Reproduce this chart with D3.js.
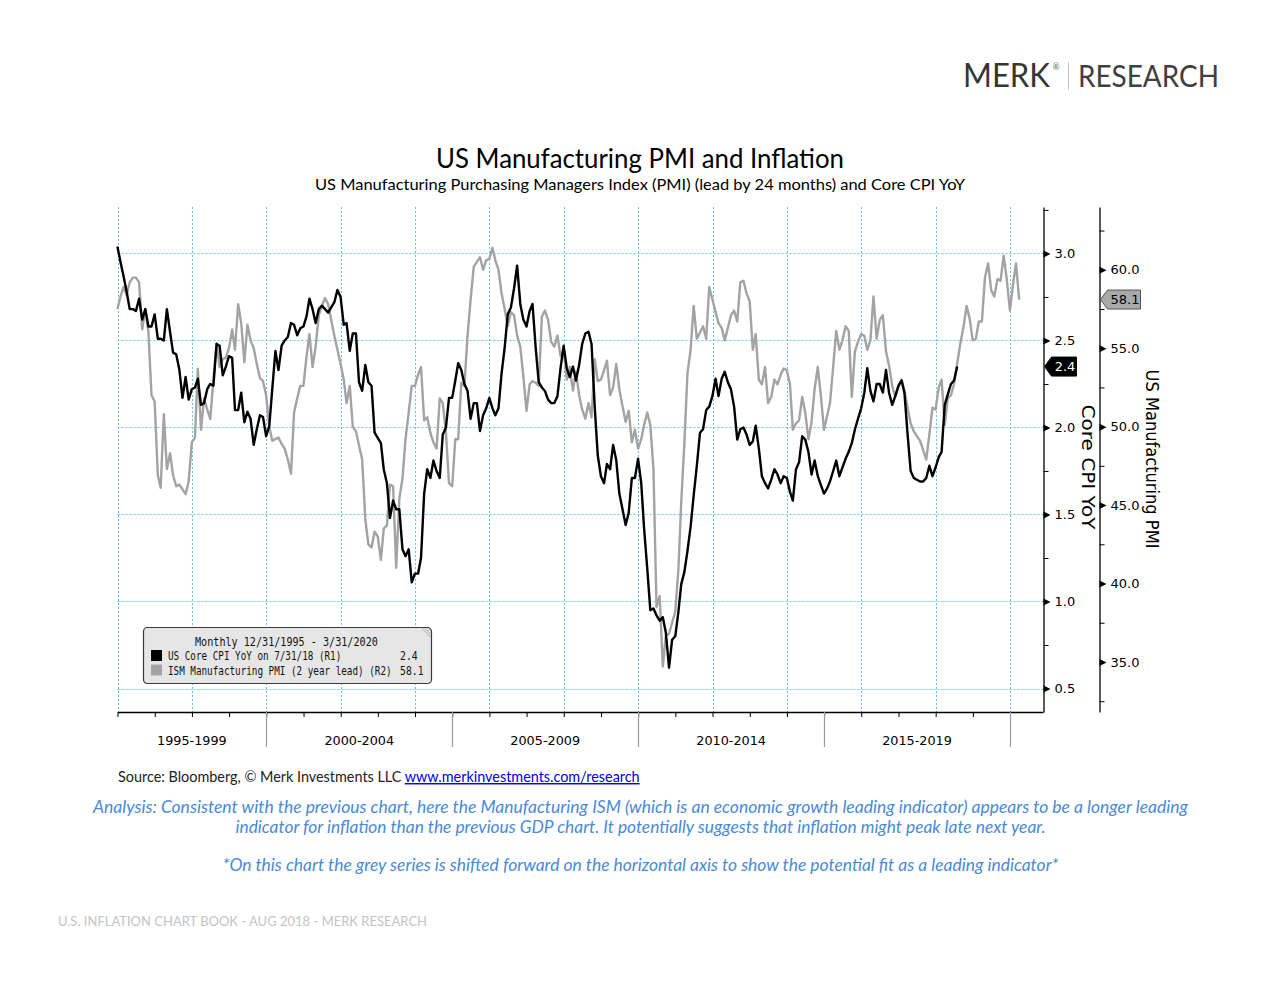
<!DOCTYPE html>
<html><head><meta charset="utf-8">
<script src="https://cdn.jsdelivr.net/npm/d3@7"></script>
<style>html,body{margin:0;padding:0;background:#fff;} svg{display:block}</style>
</head><body>
<svg id="c" width="1280" height="989"></svg>
<script>
// ---- DATA ----
// Monthly series start at month-end Dec 1995 (index 0)
const startYear = 1995, startMonth = 12;
// US Core CPI YoY (R1), Dec 1995 .. Jul 2018
const cpiValues = [
 3.04,2.95,2.87,2.78,2.68,2.68,2.67,2.74,2.62,2.68,
 2.58,2.58,2.65,2.51,2.51,2.50,2.68,2.55,2.43,2.42,
 2.33,2.17,2.29,2.16,2.22,2.23,2.28,2.13,2.14,2.22,
 2.25,2.24,2.48,2.47,2.30,2.35,2.41,2.40,2.10,2.10,
 2.20,2.03,2.09,2.05,1.90,1.99,2.07,2.06,1.95,2.01,
 2.22,2.44,2.33,2.47,2.50,2.52,2.60,2.59,2.53,2.57,
 2.58,2.64,2.74,2.68,2.60,2.68,2.70,2.68,2.66,2.69,
 2.72,2.79,2.75,2.59,2.60,2.44,2.54,2.54,2.26,2.21,
 2.36,2.26,2.24,1.97,1.94,1.91,1.76,1.68,1.48,1.58,
 1.53,1.53,1.30,1.26,1.30,1.11,1.16,1.16,1.25,1.62,
 1.76,1.71,1.81,1.75,1.71,1.96,2.00,2.17,2.17,2.27,
 2.37,2.33,2.25,2.21,2.05,2.14,2.14,1.98,2.07,2.11,
 2.17,2.11,2.07,2.11,2.31,2.46,2.65,2.69,2.80,2.93,
 2.71,2.62,2.58,2.67,2.71,2.46,2.26,2.23,2.21,2.16,
 2.14,2.14,2.18,2.34,2.47,2.34,2.29,2.35,2.27,2.36,
 2.48,2.54,2.55,2.48,2.12,1.84,1.72,1.68,1.79,1.76,
 1.90,1.81,1.62,1.53,1.44,1.51,1.71,1.71,1.82,1.68,
 1.42,1.19,0.95,0.96,0.92,0.89,0.91,0.82,0.62,0.78,
 0.80,0.94,1.10,1.17,1.29,1.43,1.61,1.78,1.97,1.99,
 2.10,2.12,2.18,2.28,2.18,2.28,2.32,2.26,2.22,2.12,
 1.93,1.99,2.00,1.96,1.90,1.92,2.01,1.88,1.72,1.68,
 1.65,1.70,1.76,1.73,1.68,1.72,1.71,1.63,1.58,1.76,
 1.80,1.95,1.93,1.86,1.73,1.81,1.72,1.67,1.62,1.65,
 1.69,1.75,1.81,1.72,1.77,1.82,1.86,1.91,1.99,2.05,
 2.11,2.20,2.34,2.21,2.15,2.25,2.25,2.20,2.33,2.20,
 2.13,2.18,2.24,2.27,2.20,1.96,1.75,1.71,1.70,1.69,
 1.69,1.71,1.78,1.72,1.77,1.83,1.86,2.13,2.19,2.25,
 2.27,2.35
];
// ISM Manufacturing PMI, 2 year lead (R2), Dec 1995 .. Mar 2020
const pmiValues = [
 57.5,58.3,58.9,58.4,59.2,59.5,59.5,59.2,56.2,57.5,
 56.0,52.0,51.6,46.9,46.1,50.8,47.3,48.3,46.9,46.2,
 46.3,46.0,45.7,46.5,49.0,49.3,53.7,49.8,51.8,51.1,
 50.5,53.0,55.3,53.8,54.3,54.4,55.0,56.2,54.9,57.8,
 56.6,54.1,56.5,55.5,55.0,54.0,53.1,52.9,52.0,50.0,
 49.1,49.2,49.3,48.9,48.6,47.9,47.0,50.9,51.8,52.6,
 52.6,54.5,55.9,53.8,55.1,57.1,57.7,58.2,57.8,56.8,
 55.8,54.9,54.0,53.0,51.5,52.6,50.0,49.7,48.8,47.9,
 44.1,42.5,42.3,43.3,43.0,41.5,43.5,43.7,46.3,46.2,
 41.0,45.4,46.7,49.2,50.9,52.6,52.6,53.3,53.8,50.4,
 50.6,49.6,49.0,48.6,51.8,51.5,49.6,46.4,46.2,49.2,
 49.2,52.8,52.6,55.8,58.1,60.2,60.5,60.8,60.0,60.6,
 60.7,61.4,60.6,60.0,58.5,57.5,56.4,57.3,57.1,55.8,
 55.1,53.2,51.0,52.7,52.9,52.8,52.6,57.0,57.4,56.8,
 55.4,55.1,55.8,54.5,54.9,53.0,53.8,52.3,53.5,52.0,
 51.1,50.5,51.5,50.6,54.3,52.9,53.0,53.6,54.2,52.0,
 52.5,54.0,52.4,51.3,50.3,51.0,49.0,49.8,48.6,49.2,
 50.1,50.9,50.1,47.3,38.5,39.2,34.7,36.7,36.8,37.5,
 38.2,40.9,45.2,49.0,53.4,54.9,57.7,55.6,56.0,56.4,
 55.6,58.9,58.1,57.3,56.6,56.3,55.5,56.3,57.1,57.4,
 56.7,59.2,59.3,58.5,58.0,54.9,55.9,53.0,52.7,53.8,
 51.5,51.9,53.0,52.7,53.3,53.7,53.6,52.7,49.8,50.2,
 50.4,51.9,50.9,49.2,50.3,52.4,53.8,52.0,49.8,50.7,
 51.5,53.8,56.1,54.9,55.5,56.4,56.1,51.9,54.8,55.4,
 55.9,55.8,54.9,55.5,58.3,55.6,56.8,57.1,54.8,53.9,
 52.6,51.9,52.5,53.0,52.3,51.2,50.2,49.7,49.4,49.1,
 48.5,47.9,49.5,51.2,51.1,52.5,53.0,50.1,51.8,52.0,
 52.7,54.0,55.3,56.3,57.7,56.9,55.5,55.6,56.7,56.7,
 59.5,60.4,58.7,58.3,59.4,59.3,60.9,59.4,57.4,59.1,
 60.4,58.1
];
const cpiTicks = [0.5,1.0,1.5,2.0,2.5,3.0];
const cpiMinorTicks = [0.75,1.25,1.75,2.25,2.75,3.25];
const pmiTicks = [35,40,45,50,55,60];
const pmiMinorTicks = [32.5,37.5,42.5,47.5,52.5,57.5,62.5];
const periodLabels = ["1995-1999","2000-2004","2005-2009","2010-2014","2015-2019"];
const periodBounds = [1996,2000,2005,2010,2015,2020];
const gridYears = [1996,1998,2000,2002,2004,2006,2008,2010,2012,2014,2016,2018,2020];
const legendTitle = "Monthly 12/31/1995 - 3/31/2020";
const legendRows = [
  {label:"US Core CPI YoY on 7/31/18 (R1)", value:"2.4", color:"#000"},
  {label:"ISM Manufacturing PMI (2 year lead) (R2)", value:"58.1", color:"#a3a3a3"}
];

// ---- CHART ----
const svg = d3.select("#c");
const monthEnd = i => new Date(startYear, startMonth - 1 + i + 1, 0);

const x = d3.scaleTime().domain([new Date(1996,0,1), new Date(2020,10,20)]).range([117.5, 1043]);
const yL = d3.scaleLinear().domain([0.365, 3.267]).range([712, 207]);
const yR = d3.scaleLinear().domain([31.81, 64.0]).range([712, 207]);
const plotTop = 207, plotBot = 712, plotLeft = 117.5, plotRight = 1043;

const gridColor = "#63c9d3";
const grid = svg.append("g");
grid.selectAll("line.v").data(gridYears).join("line")
  .attr("x1", d => Math.round(x(new Date(d,0,1)))+0.5).attr("x2", d => Math.round(x(new Date(d,0,1)))+0.5)
  .attr("y1", plotTop).attr("y2", plotBot)
  .attr("stroke", gridColor).attr("stroke-width",1).attr("stroke-dasharray","2,2");
grid.selectAll("line.h").data(cpiTicks).join("line")
  .attr("x1", plotLeft).attr("x2", plotRight)
  .attr("y1", d => Math.round(yL(d))+0.5).attr("y2", d => Math.round(yL(d))+0.5)
  .attr("stroke", gridColor).attr("stroke-width",1).attr("stroke-dasharray","2,2");

// series
const lineGrey = d3.line().x((d,i)=>x(monthEnd(i))).y(d=>yR(d));
const lineBlack = d3.line().x((d,i)=>x(monthEnd(i))).y(d=>yL(d));
svg.append("path").datum(pmiValues).attr("d", lineGrey)
  .attr("fill","none").attr("stroke","#a3a3a3").attr("stroke-width",2.4).attr("stroke-linejoin","round");
svg.append("path").datum(cpiValues).attr("d", lineBlack)
  .attr("fill","none").attr("stroke","#000").attr("stroke-width",2.4).attr("stroke-linejoin","round");

// x axis
const axFont = "DejaVu Sans";
const xAxis = d3.axisBottom(x).tickValues(d3.range(1996,2021).map(y=>new Date(y,0,1)))
  .tickSize(5).tickSizeOuter(0).tickFormat("");
const gx = svg.append("g").attr("transform",`translate(0,${plotBot})`).call(xAxis);
gx.select(".domain").attr("stroke","#000").attr("stroke-width",1.5);
gx.selectAll(".tick line").attr("stroke","#000");
svg.append("g").selectAll("line").data(periodBounds.slice(1)).join("line")
  .attr("x1", d=>Math.round(x(new Date(d,0,1)))+0.5).attr("x2", d=>Math.round(x(new Date(d,0,1)))+0.5)
  .attr("y1", plotBot).attr("y2", 747).attr("stroke","#9a9a9a").attr("stroke-width",1.2);
svg.append("g").selectAll("text").data(periodLabels).join("text")
  .attr("x",(d,i)=> (x(new Date(periodBounds[i],0,1)) + x(new Date(periodBounds[i+1],0,1)))/2)
  .attr("y", 745).attr("text-anchor","middle")
  .attr("font-family",axFont).attr("font-size",12.8).attr("fill","#000").text(d=>d);

// right axes
function rightAxis(scale, xpos, majors, minors, fmt){
  const g = svg.append("g").attr("transform",`translate(${xpos},0)`);
  const major = d3.axisRight(scale).tickValues(majors).tickSize(0).tickPadding(11).tickFormat(fmt);
  g.call(major);
  g.select(".domain").attr("stroke","#000").attr("stroke-width",1.3);
  g.selectAll(".tick text").attr("font-family",axFont).attr("font-size",13).attr("fill","#000");
  g.selectAll(".tick").append("path").attr("d","M0,-3.5L7,0L0,3.5Z").attr("fill","#000");
  const gm = svg.append("g").attr("transform",`translate(${xpos},0)`)
    .call(d3.axisRight(scale).tickValues(minors).tickSize(5).tickFormat(""));
  gm.select(".domain").remove();
  gm.selectAll(".tick line").attr("stroke","#000");
  return g;
}
rightAxis(yL, 1043.5, cpiTicks, cpiMinorTicks, d3.format(".1f"));
rightAxis(yR, 1099.5, pmiTicks, pmiMinorTicks, d3.format(".1f"));

// axis titles
svg.append("text").attr("transform",`translate(1082,467) rotate(90)`)
  .attr("text-anchor","middle").attr("font-family",axFont).attr("font-size",18)
  .attr("textLength",125).attr("lengthAdjust","spacingAndGlyphs").text("Core CPI YoY");
svg.append("text").attr("transform",`translate(1146,459) rotate(90)`)
  .attr("text-anchor","middle").attr("font-family",axFont).attr("font-size",17.5)
  .attr("textLength",179).attr("lengthAdjust","spacingAndGlyphs").text("US Manufacturing PMI");

// last value tags
const lastCpi = cpiValues[cpiValues.length-1];
const lastPmi = pmiValues[pmiValues.length-1];
function tag(xpos, y, w, fill, stroke, txtColor, txt){
  const g = svg.append("g").attr("transform",`translate(${xpos},${y})`);
  g.append("path").attr("d",`M0,0L7,-9.5L${w},-9.5L${w},9.5L7,9.5Z`)
    .attr("fill",fill).attr("stroke",stroke).attr("stroke-width",1);
  g.append("text").attr("x",(w+7)/2+1).attr("y",4.6).attr("text-anchor","middle")
    .attr("font-family",axFont).attr("font-size",13).attr("fill",txtColor).text(txt);
}
tag(1044.5, yL(lastCpi), 32, "#000", "#000", "#fff", d3.format(".1f")(lastCpi));
tag(1100.5, yR(lastPmi), 40, "#a9a9a9", "#555", "#000", d3.format(".1f")(lastPmi));

// legend (narrow monospace via horizontal scaling)
const lg = svg.append("g");
lg.append("rect").attr("x",143.5).attr("y",627.5).attr("width",288).attr("height",56).attr("rx",4)
  .attr("fill","#e6e6e6").attr("stroke","#3a3a3a").attr("stroke-width",1.2);
[0,3,6].forEach(o=>lg.append("line").attr("x1",422+o).attr("y1",628.5).attr("x2",430.5).attr("y2",637-o)
  .attr("stroke","#999").attr("stroke-width",0.8));
const mono = "DejaVu Sans Mono";
const lgSize = 11.5, charW = 0.602 * lgSize;
function lgText(str, xp, yp, perChar){
  const sx = perChar / charW;
  lg.append("text").attr("transform",`translate(${xp},${yp}) scale(${sx},1)`)
    .attr("font-family",mono).attr("font-size",lgSize).attr("fill","#111").text(str);
}
lgText(legendTitle, 195, 646, 6.1);
legendRows.forEach((r,i)=>{
  const yb = 660 + i*14.5;
  lg.append("rect").attr("x",151).attr("y",yb-10).attr("width",11).attr("height",11).attr("fill",r.color);
  lgText(r.label, 168, yb, 5.6);
  lgText(r.value, 400, yb, 5.9);
});

// titles
const sans = "Lato";
svg.append("text").attr("x",640).attr("y",168).attr("text-anchor","middle")
  .attr("font-family",sans).attr("font-size",26).attr("fill","#000")
  .attr("textLength",408).attr("lengthAdjust","spacingAndGlyphs").text("US Manufacturing PMI and Inflation");
svg.append("text").attr("x",640).attr("y",190).attr("text-anchor","middle")
  .attr("font-family",sans).attr("font-size",16).attr("fill","#000")
  .attr("textLength",650).attr("lengthAdjust","spacingAndGlyphs")
  .text("US Manufacturing Purchasing Managers Index (PMI) (lead by 24 months) and Core CPI YoY");

// logo
svg.append("text").attr("x",963).attr("y",87).attr("font-family",sans).attr("font-size",32.5)
  .attr("textLength",87).attr("lengthAdjust","spacingAndGlyphs").attr("fill","#353535").text("MERK");
svg.append("text").attr("x",1052.5).attr("y",70).attr("font-family",sans).attr("font-size",8.5).attr("fill","#666").text("®");
svg.append("line").attr("x1",1068.5).attr("x2",1068.5).attr("y1",62).attr("y2",90).attr("stroke","#c4c4c4").attr("stroke-width",1);
svg.append("text").attr("x",1078).attr("y",87).attr("font-family",sans).attr("font-size",31)
  .attr("textLength",141).attr("lengthAdjust","spacingAndGlyphs").attr("fill","#404040").text("RESEARCH");

// source
const src = svg.append("text").attr("x",118).attr("y",782).attr("font-family",sans).attr("font-size",14.4).attr("fill","#222");
src.append("tspan").text("Source: Bloomberg, © Merk Investments LLC ");
src.append("tspan").attr("fill","#0000ee").attr("text-decoration","underline").text("www.merkinvestments.com/research");

// analysis
const blue = "#4a8ad6";
const an = [
  {t:"Analysis: Consistent with the previous chart, here the Manufacturing ISM (which is an economic growth leading indicator) appears to be a longer leading", y:813, w:1095},
  {t:"indicator for inflation than the previous GDP chart. It potentially suggests that inflation might peak late next year.", y:833, w:810},
  {t:"*On this chart the grey series is shifted forward on the horizontal axis to show the potential fit as a leading indicator*", y:871, w:836}
];
svg.append("g").selectAll("text").data(an).join("text")
  .attr("x",640.5).attr("y",d=>d.y).attr("text-anchor","middle").attr("font-family",sans)
  .attr("font-style","italic").attr("font-size",16.5).attr("fill",blue)
  .attr("textLength",d=>d.w).attr("lengthAdjust","spacingAndGlyphs").text(d=>d.t);

svg.append("text").attr("x",58).attr("y",926).attr("font-family",sans).attr("font-size",13)
  .attr("textLength",369).attr("lengthAdjust","spacingAndGlyphs")
  .attr("fill","#c4c4c4").text("U.S. INFLATION CHART BOOK - AUG 2018 - MERK RESEARCH");
</script>
</body></html>
